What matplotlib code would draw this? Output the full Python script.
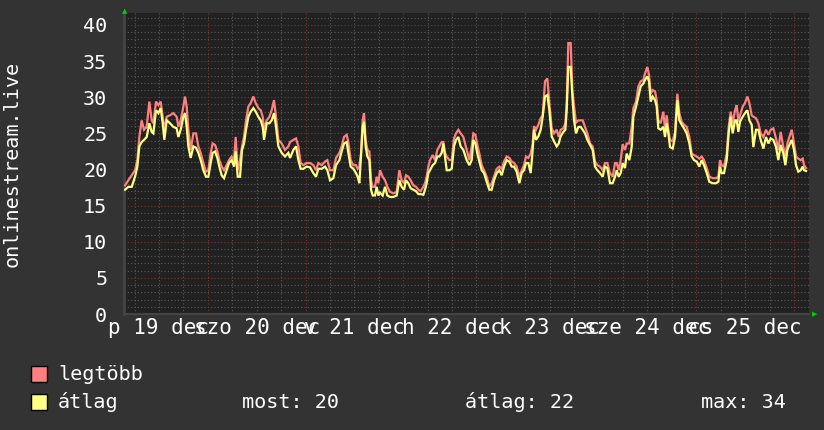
import matplotlib
matplotlib.use("Agg")
import matplotlib.pyplot as plt
from matplotlib.patches import Rectangle

# hours since 19 Dec 00:00
hours = [3.66, 4.48, 5.30, 6.12, 6.69, 7.18, 7.75, 8.33, 8.98, 9.64, 10.21, 10.62, 11.28, 11.85, 12.42, 12.91,
         13.32, 13.90, 14.71, 15.53, 16.35, 16.76, 17.33, 17.99, 18.40, 18.81, 19.22, 19.79, 20.45, 21.10,
         21.67, 22.25, 22.90, 23.56, 24.13, 24.70, 25.19, 25.77, 26.34, 26.83, 27.41, 27.98, 28.63, 29.21,
         29.86, 30.44, 30.85, 31.34, 31.91, 32.40, 32.89, 33.38, 33.96, 34.53, 35.18, 35.76, 36.41, 36.99,
         37.48, 37.81, 38.46, 39.12, 39.69, 40.26, 40.75, 41.33, 42.15, 42.96, 43.78,
         44.19, 45.01, 45.67, 46.24, 46.81, 47.47, 48.29, 49.10, 49.92, 50.58, 51.15, 51.97, 52.79, 53.36,
         54.02, 54.84, 55.49, 56.31, 56.88, 57.46, 58.11, 58.52, 59.09, 59.75, 60.40, 60.81, 61.22, 61.63,
         62.04, 62.37, 62.78, 63.19, 63.68, 64.09, 64.50, 65.07, 65.48, 65.89, 66.30, 66.95, 67.53, 68.10,
         68.76, 69.57, 70.39, 71.05, 71.62, 72.20, 72.69, 73.26, 73.83, 74.49, 75.14, 75.72, 76.29, 76.94,
         77.35, 77.76, 78.17, 78.58, 79.24, 79.81, 80.38, 80.88, 81.45, 81.86, 82.27, 82.68, 83.33, 83.91,
         84.48, 84.97, 85.54, 86.11,
         86.77, 87.59, 88.25, 88.82, 89.23, 89.72, 90.21, 90.70, 91.28, 91.85, 92.50, 93.16, 93.73, 94.30,
         94.96, 95.61, 96.19, 96.76, 97.42, 98.07, 98.65, 99.22, 99.87, 100.53, 101.10, 101.67, 102.17,
         102.74, 103.31, 103.80, 104.13, 104.62, 105.20, 105.77, 106.26, 106.83, 107.41, 107.90, 108.47,
         109.04, 109.70, 110.19, 110.68, 111.34, 111.83, 112.16, 112.56, 113.14, 113.55, 113.96, 114.45,
         115.02, 115.59, 116.09, 116.66, 117.23, 117.89, 118.54, 119.11, 119.69, 120.34, 121.00, 121.57,
         122.14, 122.80, 123.45, 124.03, 124.44, 124.93, 125.42, 125.91, 126.48, 126.89, 127.55,
         128.12, 128.53, 129.19, 129.76, 130.33, 130.99, 131.40, 131.97, 132.38, 132.79, 133.28, 133.86,
         134.26, 134.67, 135.25, 135.90, 136.31, 136.72, 137.13, 137.54, 138.20, 138.77, 139.34, 139.83,
         140.41, 140.98, 141.63, 142.29, 142.86, 143.44, 144.09, 144.74, 145.32, 145.89, 146.55, 147.20,
         148.02, 148.84, 149.41, 149.82, 150.23, 150.80, 151.46, 151.95, 152.44, 152.93, 153.51, 153.92,
         154.33, 154.73, 155.39, 155.96, 156.54, 157.03, 157.60, 158.01, 158.67, 159.24, 159.81, 160.47,
         161.12, 161.70, 162.27, 162.92, 163.58, 164.15, 164.72, 165.38, 165.87, 166.36, 166.85, 167.43,
         168.00, 168.49, 169.06, 169.64, 170.13, 170.46, 170.95]

avg_vals = [17.2, 17.6, 17.6, 19.0, 20.4, 23.2, 23.8, 24.1, 24.5, 26.4, 25.2, 25.0, 28.2, 27.8, 28.5, 26.4,
            24.1, 26.8, 26.4, 25.9, 25.7, 24.5, 25.5, 27.3, 27.8, 25.9, 23.2, 21.6, 23.2, 23.0,
            22.3, 21.3, 19.9, 19.0, 19.0, 20.9, 22.3, 22.5, 21.6, 20.4, 19.2, 18.8, 19.9, 20.9,
            21.3, 20.4, 22.5, 19.0, 19.0, 22.7, 23.6, 25.5, 27.3, 28.0, 28.5, 28.0, 27.3, 26.8,
            25.9, 24.1, 26.4, 26.4, 26.8, 27.8, 25.9, 23.2, 22.3, 21.8, 22.3,
            21.6, 22.7, 23.2, 21.3, 20.1, 20.1, 20.4, 20.3, 19.5, 19.0, 20.1, 20.1, 20.4, 19.9,
            18.5, 18.8, 20.6, 21.3, 22.5, 23.6, 23.8, 22.3, 20.4, 20.1, 19.5, 19.0, 18.1, 21.8,
            25.9, 26.6, 23.2, 21.8, 21.3, 17.2, 16.4, 16.4, 17.6, 16.4, 16.8, 16.4, 17.6, 16.4,
            16.2, 16.2, 16.4, 18.5, 17.6, 17.2, 18.5, 18.1, 17.4, 17.2, 17.0, 16.6, 16.6, 16.5,
            17.2, 18.1, 19.5, 19.9, 20.6, 20.9, 21.8, 21.8, 22.3, 23.6, 21.8, 19.9, 19.9, 20.1,
            23.2, 24.1, 24.5, 23.2,
            22.7, 21.3, 20.6, 21.3, 24.1, 23.6, 22.2, 21.1, 19.9, 19.5, 18.3, 17.2, 17.2, 18.5,
            19.5, 19.9, 19.2, 20.4, 21.3, 21.1, 20.4, 20.4, 19.7, 18.1, 19.5, 19.9, 20.9,
            20.9, 19.5, 22.7, 25.5, 24.1, 24.6, 25.5, 27.3, 30.1, 30.3, 28.2, 24.6,
            23.9, 23.2, 23.6, 24.6, 25.2, 25.5, 28.2, 34.2, 34.2, 30.1, 26.8, 25.0,
            25.9, 25.9, 25.5, 25.0, 24.1, 23.4, 22.7, 20.4, 19.9, 19.5, 19.0, 20.4,
            20.2, 18.1, 18.1, 19.0, 19.9, 19.0, 19.5, 20.9, 20.2, 22.2, 21.3,
            23.1, 27.3, 28.7, 30.1, 31.5, 31.9, 32.4, 32.9, 32.2, 29.4, 30.1, 29.6,
            28.7, 25.7, 25.5, 25.9, 24.5, 26.4, 25.0, 23.1, 22.9, 24.5, 29.6, 26.8,
            26.2, 25.7, 25.0, 23.6, 21.8, 21.3, 21.1, 20.4, 21.3, 20.6, 19.5, 18.3,
            18.1, 18.1, 18.3, 20.4, 19.5, 19.5, 21.3, 25.0, 27.3, 25.0, 26.8, 26.8,
            25.2, 26.6, 27.3, 27.8, 28.2, 26.8, 26.2, 23.1, 25.5, 25.5, 24.1, 22.9,
            24.5, 23.6, 24.3, 24.1, 23.1, 21.3, 23.4, 22.2, 20.6, 22.7, 23.4, 24.1,
            22.7, 20.6, 19.7, 19.9, 20.4, 19.9, 19.8]

max_vals = [17.8, 18.5, 19.2, 19.9, 21.3, 24.5, 26.8, 25.5, 25.9, 29.4, 26.8, 26.4, 29.4, 28.9, 29.4, 27.3,
            25.5, 27.3, 27.5, 27.8, 27.3, 25.9, 26.8, 28.7, 30.1, 28.7, 25.5, 22.7, 25.0, 25.0,
            23.2, 22.3, 20.9, 19.7, 19.9, 22.3, 23.6, 23.4, 22.5, 21.3, 20.4, 19.9, 20.6, 21.3,
            21.8, 21.3, 24.5, 19.9, 21.3, 23.2, 24.5, 26.8, 28.7, 29.2, 30.1, 29.2, 28.5, 28.2,
            27.3, 25.5, 26.8, 27.3, 28.2, 29.6, 27.3, 24.1, 23.6, 22.7, 23.2,
            23.8, 24.1, 24.3, 23.2, 20.9, 20.6, 20.9, 20.9, 20.6, 19.9, 20.9, 20.6, 21.1, 21.3,
            19.9, 19.9, 21.6, 22.3, 23.2, 24.5, 24.8, 23.8, 21.3, 20.6, 20.6, 20.1, 20.4, 22.3,
            26.8, 27.8, 24.1, 22.7, 22.5, 18.5, 17.6, 17.6, 19.0, 18.1, 19.9, 19.0, 18.5, 17.6,
            16.9, 16.7, 16.9, 19.9, 18.5, 18.1, 19.2, 19.0, 18.5, 17.8, 17.6, 17.2, 17.0, 17.6,
            18.1, 19.0, 20.4, 21.3, 22.0, 21.3, 22.7, 23.2, 23.8, 23.8, 22.3, 21.8, 21.3, 21.3,
            24.3, 25.0, 25.5, 25.0,
            24.5, 22.7, 21.3, 23.2, 25.0, 24.8, 23.4, 22.2, 20.6, 19.9, 19.0, 17.6, 18.1, 19.0,
            20.1, 20.4, 20.1, 21.1, 21.8, 21.6, 21.1, 20.9, 20.4, 19.0, 19.9, 20.6, 21.8,
            21.6, 22.2, 23.6, 26.0, 25.5, 26.2, 27.1, 27.5, 32.2, 32.6, 29.2, 25.7,
            25.0, 25.5, 24.5, 25.5, 25.7, 26.4, 29.2, 37.5, 37.5, 31.0, 28.8, 26.5,
            26.8, 26.8, 26.8, 25.9, 25.0, 23.6, 23.2, 21.1, 20.6, 20.4, 19.9, 20.9,
            20.9, 19.5, 19.0, 20.9, 20.9, 19.9, 21.3, 23.5, 22.7, 23.6, 23.6,
            25.9, 28.5, 29.4, 31.5, 32.2, 32.4, 33.3, 34.2, 33.1, 30.5, 31.0, 30.8,
            29.6, 26.8, 26.4, 28.0, 25.5, 27.5, 25.5, 24.1, 23.9, 25.2, 30.5, 27.8,
            26.6, 26.2, 25.9, 24.5, 22.2, 22.0, 21.8, 21.5, 21.8, 21.3, 20.2, 19.0,
            18.8, 18.8, 19.0, 21.3, 20.6, 20.4, 22.2, 25.9, 28.0, 26.4, 28.2, 28.9,
            26.6, 27.5, 28.7, 29.2, 30.1, 29.2, 27.5, 27.3, 27.1, 26.4, 25.0, 24.5,
            25.5, 24.8, 25.5, 25.7, 24.3, 22.7, 25.2, 23.1, 21.8, 23.6, 24.5, 25.5,
            23.6, 21.8, 21.5, 21.3, 21.5, 20.6, 20.2]

day_labels = ["p 19 dec", "szo 20 dec", "v 21 dec", "h 22 dec", "k 23 dec", "sze 24 dec", "cs 25 dec"]
day_label_hours = [12, 36, 60, 84, 108, 132, 156]
y_ticks = [0, 5, 10, 15, 20, 25, 30, 35, 40]
series_names = ["legtöbb", "átlag"]
stats_labels = ["most: 20", "átlag: 22", "max: 34"]

BG = "#333333"
CANVAS = "#212121"
FG = "#ffffff"
RED = "#ff8080"
YEL = "#ffff80"
W, H = 824, 430
FONT = "DejaVu Sans Mono"
FS = 14.5

fig = plt.figure(figsize=(W / 100, H / 100), dpi=100, facecolor=BG)
left, right, top, bottom = 124, 809, 13, 314
ax = fig.add_axes([left / W, 1 - bottom / H, (right - left) / W, (bottom - top) / H])
ax.set_facecolor(CANVAS)
ax.set_xlim(3.41, 171.68)
ax.set_ylim(0, 41.66)

# grid
for h in range(6, 172, 6):
    if h % 24 == 0:
        continue
    ax.axvline(h, color="#5a5a5a", lw=0.8, ls=(0, (1, 2)), zorder=1)
for v in range(1, 42):
    if v % 5 == 0:
        continue
    ax.axhline(v, color="#5a5a5a", lw=0.8, ls=(0, (1, 2)), zorder=1)
for h in range(24, 172, 24):
    ax.axvline(h, color="#7a3333", lw=0.8, ls=(0, (1, 2)), zorder=1)
for v in y_ticks[1:]:
    ax.axhline(v, color="#7a3333", lw=0.8, ls=(0, (1, 2)), zorder=1)

ax.plot(hours, max_vals, color=RED, lw=1.6, zorder=3, solid_joinstyle="miter")
ax.plot(hours, avg_vals, color=YEL, lw=1.6, zorder=4, solid_joinstyle="miter")

for s in ["top", "right"]:
    ax.spines[s].set_visible(False)
ax.spines["left"].set_color("#444444")
ax.spines["left"].set_linewidth(2)
ax.spines["bottom"].set_color("#444444")
ax.spines["bottom"].set_linewidth(1.5)

ax.set_yticks(y_ticks)
ax.set_yticklabels([str(v) for v in y_ticks], fontfamily=FONT, fontsize=FS, color=FG)
ax.set_xticks(day_label_hours)
ax.set_xticklabels(day_labels, fontfamily=FONT, fontsize=15, color=FG)
ax.tick_params(axis="y", length=0, pad=12)
ax.tick_params(axis="x", length=0, pad=3)

fig.text(12 / W, 1 - 164 / H, "onlinestream.live", rotation=90, ha="center", va="center",
         fontfamily=FONT, fontsize=FS, color=FG)

# arrows
fig.text(124.5 / W, 1 - 11 / H, "▲", ha="center", va="center", fontsize=5, color="#00cc00")
fig.text(815 / W, 1 - 314.5 / H, "▶", ha="center", va="center", fontsize=5, color="#00cc00")

# legend
for i, (name, col) in enumerate(zip(series_names, [RED, YEL])):
    yc = 374 + 28 * i
    fig.patches.append(Rectangle((31 / W, 1 - (yc + 8) / H), 16 / W, 16 / H, transform=fig.transFigure,
                                 facecolor=col, edgecolor="black", lw=1))
    fig.text(58 / W, 1 - yc / H, name, ha="left", va="center", fontfamily=FONT, fontsize=FS, color=FG)
for xs, t in zip([242, 465, 701], stats_labels):
    fig.text(xs / W, 1 - 402 / H, t, ha="left", va="center", fontfamily=FONT, fontsize=FS, color=FG)

fig.savefig("out.png", dpi=100, facecolor=BG)
